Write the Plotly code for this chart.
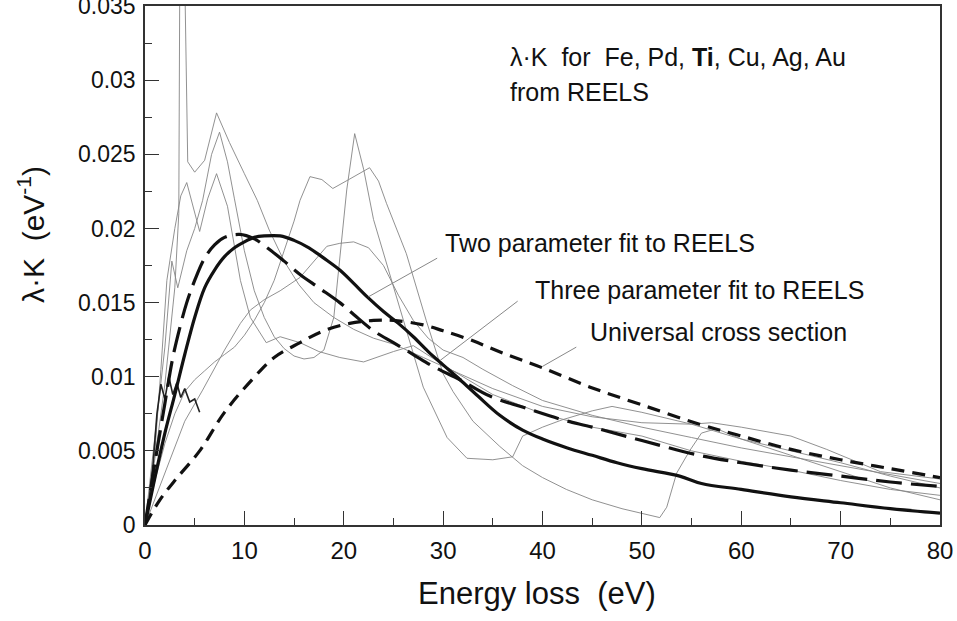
import plotly.graph_objects as go

# ---------------- data ----------------
x_ticks = [0, 10, 20, 30, 40, 50, 60, 70, 80]
x_minor = [5, 15, 25, 35, 45, 55, 65, 75]
y_ticks = [0, 0.005, 0.01, 0.015, 0.02, 0.025, 0.03, 0.035]
y_ticktext = ["0", "0.005", "0.01", "0.015", "0.02", "0.025", "0.03", "0.035"]
y_minor = [0.0025, 0.0075, 0.0125, 0.0175, 0.0225, 0.0275, 0.0325]

# thin REELS curves (Fe, Pd, Ti, Cu, Ag, Au)
metal_a_x = [0, 1, 2, 3, 3.4, 3.5, 4.0, 4.3, 5.0, 6.0, 7.2, 8.5, 10, 11.3, 12.5, 14, 15.5, 17, 19, 21, 23, 25, 28, 31, 35, 40, 45, 50, 55, 57, 60, 65, 68.6, 74, 80]
metal_a_y = [0, 0.0045, 0.0095, 0.016, 0.021, 0.037, 0.037, 0.0245, 0.0238, 0.0246, 0.0278, 0.0258, 0.0237, 0.0219, 0.0199, 0.0178, 0.0162, 0.0150, 0.0140, 0.0132, 0.0126, 0.0122, 0.0113, 0.0104, 0.0092, 0.0080, 0.0073, 0.0069, 0.0068, 0.0069, 0.0066, 0.0060, 0.0051, 0.0036, 0.0031]

metal_b_x = [0, 1, 2, 2.7, 3.3, 4.2, 5, 5.8, 6.7, 7.5, 8.3, 9, 10, 11, 12, 13, 14, 15, 16, 17, 18, 19, 19.5, 20.3, 21.1, 22, 23, 25, 28, 30.4, 32.4, 35, 37, 38, 40, 42, 45, 47, 50, 55, 60, 65, 70, 75, 80]
metal_b_y = [0, 0.006, 0.012, 0.0178, 0.0160, 0.0185, 0.0200, 0.0219, 0.0250, 0.0265, 0.0245, 0.0220, 0.0185, 0.0158, 0.0140, 0.0127, 0.0119, 0.0114, 0.0112, 0.0113, 0.0118, 0.0140, 0.0175, 0.0226, 0.0264, 0.0240, 0.0206, 0.0161, 0.0093, 0.0059, 0.0045, 0.0044, 0.0046, 0.0060, 0.0066, 0.0071, 0.0077, 0.0080, 0.0076, 0.0068, 0.0058, 0.0050, 0.0042, 0.0033, 0.0025]

metal_c_x = [0, 1, 1.6, 2.2, 3, 3.6, 4.2, 4.8, 5.5, 6.3, 7.2, 8.3, 9.6, 10.6, 12.2, 13.6, 15.6, 17.5, 19.6, 22, 25, 27, 30, 35, 40, 45, 50, 55, 60, 65, 70, 75, 80]
metal_c_y = [0, 0.005, 0.0105, 0.0165, 0.0200, 0.0222, 0.0231, 0.0215, 0.0198, 0.0220, 0.0237, 0.0215, 0.0165, 0.0140, 0.0123, 0.0127, 0.0123, 0.0117, 0.0113, 0.0110, 0.0117, 0.0121, 0.0108, 0.0088, 0.0075, 0.0066, 0.0060, 0.0050, 0.0043, 0.0037, 0.0030, 0.0024, 0.0020]

metal_d_x = [0, 1, 2, 3, 4, 5, 6, 7, 8, 9, 10, 11, 12, 13, 14, 15, 15.6, 16.6, 17.8, 18.9, 20.5, 22.6, 23.5, 24.3, 26.3, 28.3, 30, 31, 33, 35.7, 38, 40, 42.4, 45, 48, 50, 51.8, 52.5, 53.5, 54.8, 56, 57.5, 60, 65, 70, 75, 80]
metal_d_y = [0, 0.003, 0.0055, 0.0075, 0.0090, 0.0098, 0.0104, 0.0110, 0.0115, 0.0120, 0.0128, 0.0138, 0.0150, 0.0165, 0.0185, 0.0205, 0.0219, 0.0235, 0.0233, 0.0227, 0.0233, 0.0241, 0.0232, 0.0217, 0.0183, 0.0138, 0.0102, 0.0090, 0.0070, 0.0053, 0.0040, 0.0032, 0.0024, 0.0017, 0.0011, 0.0008, 0.0005, 0.0012, 0.0035, 0.0050, 0.0062, 0.0065, 0.0058, 0.0047, 0.0036, 0.0025, 0.0017]

metal_e_x = [0, 2, 4, 5.8, 8, 9.6, 10.6, 12, 13.6, 15.6, 17, 18.3, 19.6, 21, 22.5, 24, 25.5, 27, 28.5, 30, 32, 34, 37, 40, 45, 50, 55, 60, 65, 70, 75, 80]
metal_e_y = [0, 0.0035, 0.0070, 0.0091, 0.0118, 0.0136, 0.0145, 0.0152, 0.0158, 0.0167, 0.0178, 0.0188, 0.0190, 0.0191, 0.0187, 0.0175, 0.0155, 0.0138, 0.0126, 0.0118, 0.0113, 0.0105, 0.0094, 0.0084, 0.0074, 0.0066, 0.0059, 0.0052, 0.0046, 0.0040, 0.0034, 0.0028]

metal_f_x = [0.3, 0.8, 1.2, 1.6, 2.0, 2.4, 2.8, 3.2, 3.6, 4.0, 4.5, 5.0, 5.5]
metal_f_y = [0.001, 0.004, 0.0075, 0.0095, 0.0085, 0.0100, 0.0088, 0.0096, 0.0086, 0.0092, 0.0083, 0.0085, 0.0076]

# fits
two_param_x = [0, 1, 2, 3, 4, 5, 6, 7, 8, 9, 10, 11, 12, 13.6, 15, 16.5, 18, 19.6, 21, 22.5, 24, 25.5, 27, 28.5, 30, 31.7, 33.5, 35.7, 38, 40, 42.5, 45, 47.5, 50, 53.8, 56, 60, 65, 70, 75, 80]
two_param_y = [0, 0.0032, 0.0062, 0.0088, 0.0115, 0.0140, 0.0160, 0.0172, 0.0181, 0.0187, 0.0191, 0.0194, 0.0195, 0.0195, 0.0192, 0.0187, 0.0180, 0.0172, 0.0163, 0.0153, 0.0144, 0.0136, 0.0127, 0.0117, 0.0108, 0.0098, 0.0087, 0.0074, 0.0064, 0.0058, 0.0052, 0.0047, 0.0042, 0.0038, 0.0033, 0.0028, 0.0024, 0.0019, 0.0015, 0.0011, 0.0008]

three_param_x = [0, 1, 2, 2.8, 3.5, 4.2, 5, 6, 7, 8, 9.5, 11, 12.5, 14, 15.6, 17.5, 19.6, 21, 23, 25, 27, 29, 31.7, 34.7, 38.7, 42, 45, 50, 55.8, 60, 65, 70, 75, 80]
three_param_y = [0, 0.0042, 0.0082, 0.0113, 0.0133, 0.0150, 0.0165, 0.0180, 0.0189, 0.0194, 0.0196, 0.0193, 0.0186, 0.0178, 0.0169, 0.0160, 0.0150, 0.0142, 0.0131, 0.0123, 0.0115, 0.0107, 0.0098, 0.0087, 0.0078, 0.0071, 0.0066, 0.0057, 0.0047, 0.0042, 0.0037, 0.0033, 0.0029, 0.0026]

universal_x = [0, 1.5, 3, 5.5, 8, 10.9, 13, 15.6, 18, 20.6, 23, 25, 28, 30, 32.7, 36, 40, 44.8, 50, 55.8, 60, 65, 70, 75, 80]
universal_y = [0, 0.0017, 0.0030, 0.0050, 0.0076, 0.0099, 0.0113, 0.0123, 0.0131, 0.0136, 0.0138, 0.0138, 0.0135, 0.0131, 0.0125, 0.0116, 0.0106, 0.0093, 0.0081, 0.0068, 0.0060, 0.0051, 0.0044, 0.0038, 0.0032]

# leader lines (data coords: text end -> curve)
leader_two = ([29.4, 22.5], [0.0180, 0.0154])
leader_three = ([37.5, 29.7], [0.0151, 0.0111])
leader_univ = ([43.4, 40.0], [0.0120, 0.0107])

FONT = "Liberation Sans, Arial, Helvetica, sans-serif"

fig = go.Figure()
thin = dict(color="#858585", width=0.9)
for xs, ys in [(metal_a_x, metal_a_y), (metal_b_x, metal_b_y), (metal_c_x, metal_c_y),
               (metal_d_x, metal_d_y), (metal_e_x, metal_e_y)]:
    fig.add_trace(go.Scatter(x=xs, y=ys, mode="lines", line=thin, hoverinfo="skip"))
fig.add_trace(go.Scatter(x=metal_f_x, y=metal_f_y, mode="lines",
                         line=dict(color="#222222", width=1.6), hoverinfo="skip"))

fig.add_trace(go.Scatter(x=universal_x, y=universal_y, mode="lines",
                         line=dict(color="#111111", width=3.2, dash="13px,8px", shape="spline")))
fig.add_trace(go.Scatter(x=three_param_x, y=three_param_y, mode="lines",
                         line=dict(color="#111111", width=3.2, dash="26px,9px", shape="spline")))
fig.add_trace(go.Scatter(x=two_param_x, y=two_param_y, mode="lines",
                         line=dict(color="#111111", width=3.2, shape="spline")))

for lx, ly in [leader_two, leader_three, leader_univ]:
    fig.add_shape(type="line", xref="x", yref="y", x0=lx[0], y0=ly[0], x1=lx[1], y1=ly[1],
                  line=dict(color="#888888", width=1))

L, R, T, B = 145, 17, 6, 96
W, H = 957, 621
pw, ph = W - L - R, H - T - B


def px(xp):
    return (xp - L) / pw


def py(yp):
    return (H - B - yp) / ph


texts = [
    ("λ·K  for  Fe, Pd, <b>Ti</b>, Cu, Ag, Au", 508, 57),
    ("from REELS", 508, 92),
    ("Two parameter fit to REELS", 443, 243),
    ("Three parameter fit to REELS", 533, 290),
    ("Universal cross section", 588, 332),
]
for t, xp, yp in texts:
    fig.add_annotation(text=t, xref="paper", yref="paper", x=px(xp), y=py(yp),
                       xanchor="left", yanchor="middle", showarrow=False,
                       font=dict(family=FONT, size=25, color="#111111"))

# axis titles
fig.add_annotation(text="Energy loss  (eV)", xref="paper", yref="paper", x=px(537), y=py(593),
                   xanchor="center", yanchor="middle", showarrow=False,
                   font=dict(family=FONT, size=31, color="#111111"))
fig.add_annotation(text="λ·K  (eV<sup>-1</sup>)", xref="paper", yref="paper", x=px(31), y=py(235),
                   xanchor="center", yanchor="middle", showarrow=False, textangle=-90,
                   font=dict(family=FONT, size=30, color="#111111"))

fig.update_layout(
    width=W, height=H, margin=dict(l=L, r=R, t=T, b=B, autoexpand=False),
    plot_bgcolor="white", paper_bgcolor="white", showlegend=False,
    font=dict(family=FONT, size=24, color="#111111"),
)
fig.update_xaxes(range=[0, 80], tickvals=x_ticks, ticktext=[str(v) for v in x_ticks],
                 ticks="inside", ticklen=14, tickwidth=1.3, tickcolor="#333333",
                 showline=True, linecolor="#333333", linewidth=1.5, mirror=True,
                 showgrid=False, zeroline=False, ticklabelstandoff=3,
                 ticklabeloverflow="allow", automargin=False,
                 tickfont=dict(size=24),
                 minor=dict(tickvals=x_minor, ticks="inside", ticklen=7, tickwidth=1.3,
                            tickcolor="#333333", showgrid=False))
fig.update_yaxes(range=[0, 0.03501], tickvals=y_ticks, ticktext=y_ticktext,
                 ticks="inside", ticklen=14, tickwidth=1.3, tickcolor="#333333",
                 showline=True, linecolor="#333333", linewidth=1.5, mirror=True,
                 showgrid=False, zeroline=False, ticklabelstandoff=3,
                 ticklabeloverflow="allow", automargin=False,
                 tickfont=dict(size=23),
                 minor=dict(tickvals=y_minor, ticks="inside", ticklen=7, tickwidth=1.3,
                            tickcolor="#333333", showgrid=False))

fig.write_html("out.html")
